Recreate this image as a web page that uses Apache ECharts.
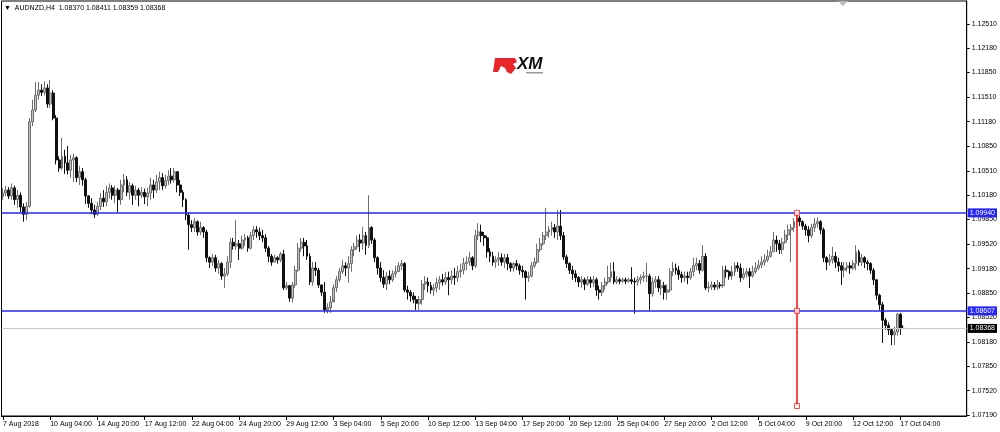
<!DOCTYPE html>
<html>
<head>
<meta charset="utf-8">
<script src="https://cdn.jsdelivr.net/npm/echarts@6/dist/echarts.min.js"></script>
<style>
html,body{margin:0;padding:0;background:#fff;}
#chart{width:1000px;height:432px;}
</style>
</head>
<body>
<div id="chart"></div>
<script>
// ---- Data (AUDNZD H4) ----
const symbolTitle = '\u25BC  AUDNZD,H4  1.08370 1.08411 1.08359 1.08368';
const xTickLabels = ['7 Aug 2018','10 Aug 04:00','14 Aug 20:00','17 Aug 12:00','22 Aug 04:00','24 Aug 20:00','29 Aug 12:00','3 Sep 04:00','5 Sep 20:00','10 Sep 12:00','13 Sep 04:00','17 Sep 20:00','20 Sep 12:00','25 Sep 04:00','27 Sep 20:00','2 Oct 12:00','5 Oct 04:00','9 Oct 20:00','12 Oct 12:00','17 Oct 04:00'];
const yTickValues = [1.07190,1.07520,1.07850,1.08180,1.08520,1.08850,1.09180,1.09520,1.09850,1.10180,1.10510,1.10850,1.11180,1.11510,1.11850,1.12180,1.12510];
const levelUpper = 1.09940;
const levelLower = 1.08607;
const lastPrice = 1.08368;
const redLineBar = 269;
const redLinePrices = [1.09940, 1.08607, 1.07313];

const opens = [1.1016,1.1021,1.1025,1.1017,1.1028,1.1012,1.1018,1.1002,1.0992,1.1003,
1.1118,1.1134,1.1154,1.1161,1.1158,1.1164,1.1142,1.1157,1.1123,1.1066,
1.1055,1.1071,1.1062,1.1052,1.1066,1.1069,1.1042,1.1050,1.1039,1.1017,
1.1007,1.0998,1.0992,1.1003,1.1014,1.1009,1.1022,1.1028,1.1018,1.1025,
1.1012,1.1032,1.1039,1.1022,1.1031,1.1018,1.1025,1.1018,1.1022,1.1016,
1.1021,1.1032,1.1025,1.1036,1.1042,1.1031,1.1038,1.1044,1.1039,1.1050,
1.1032,1.1022,1.1012,1.0991,1.0978,1.0974,1.0982,1.0968,1.0974,1.0968,
1.0933,1.0927,1.0933,1.0919,1.0925,1.0908,1.0911,1.0927,1.0954,1.0949,
1.0952,1.0946,1.0957,1.0960,1.0946,1.0963,1.0971,1.0968,1.0963,1.0960,
1.0946,1.0935,1.0927,1.0933,1.0930,1.0938,1.0892,1.0895,1.0878,1.0896,
1.0916,1.0946,1.0954,1.0949,1.0935,1.0900,1.0919,1.0916,1.0896,1.0886,
1.0862,1.0865,1.0873,1.0892,1.0903,1.0914,1.0922,1.0919,1.0925,1.0944,
1.0948,1.0957,1.0953,1.0963,1.0950,1.0974,1.0957,1.0933,1.0919,1.0906,
1.0897,1.0908,1.0903,1.0911,1.0914,1.0922,1.0925,1.0889,1.0886,1.0881,
1.0876,1.0871,1.0876,1.0897,1.0900,1.0895,1.0889,1.0892,1.0899,1.0903,
1.0900,1.0906,1.0903,1.0908,1.0906,1.0914,1.0916,1.0925,1.0927,1.0933,
1.0922,1.0963,1.0968,1.0963,1.0960,1.0941,1.0935,1.0927,1.0930,1.0933,
1.0927,1.0933,1.0925,1.0919,1.0925,1.0922,1.0916,1.0914,1.0906,1.0908,
1.0922,1.0927,1.0944,1.0952,1.0963,1.0968,1.0971,1.0974,1.0968,1.0976,
1.0963,1.0934,1.0925,1.0916,1.0911,1.0906,1.0900,1.0903,1.0897,1.0903,
1.0899,1.0903,1.0889,1.0886,1.0895,1.0900,1.0906,1.0914,1.0900,1.0903,
1.0901,1.0903,1.0901,1.0903,1.0901,1.0900,1.0903,1.0906,1.0908,1.0908,
1.0884,1.0900,1.0903,1.0892,1.0895,1.0886,1.0889,1.0914,1.0919,1.0916,
1.0910,1.0906,1.0908,1.0906,1.0914,1.0922,1.0925,1.0916,1.0935,1.0892,
1.0893,1.0896,1.0893,1.0896,1.0895,1.0916,1.0914,1.0908,1.0914,1.0922,
1.0919,1.0906,1.0911,1.0914,1.0908,1.0914,1.0919,1.0923,1.0927,1.0930,
1.0935,1.0941,1.0957,1.0952,1.0944,1.0954,1.0964,1.0971,1.0974,1.0982,
1.0987,1.0982,1.0976,1.0971,1.0963,1.0974,1.0979,1.0982,1.0971,1.0933,
1.0927,1.0930,1.0935,1.0927,1.0922,1.0916,1.0919,1.0922,1.0919,1.0925,
1.0941,1.0927,1.0933,1.0927,1.0925,1.0916,1.0903,1.0882,1.0869,1.0848,
1.0841,1.0835,1.0828,1.0832,1.0856,1.08370];

const closes = [1.1021,1.1025,1.1017,1.1028,1.1012,1.1018,1.1002,1.0992,1.1003,1.1118,
1.1134,1.1154,1.1161,1.1158,1.1164,1.1142,1.1157,1.1123,1.1066,1.1055,
1.1071,1.1062,1.1052,1.1066,1.1069,1.1042,1.1050,1.1039,1.1017,1.1007,
1.0998,1.0992,1.1003,1.1014,1.1009,1.1022,1.1028,1.1018,1.1025,1.1012,
1.1032,1.1039,1.1022,1.1031,1.1018,1.1025,1.1018,1.1022,1.1016,1.1021,
1.1032,1.1025,1.1036,1.1042,1.1031,1.1038,1.1044,1.1039,1.1050,1.1032,
1.1022,1.1012,1.0991,1.0978,1.0974,1.0982,1.0968,1.0974,1.0968,1.0933,
1.0927,1.0933,1.0919,1.0925,1.0908,1.0911,1.0927,1.0954,1.0949,1.0952,
1.0946,1.0957,1.0960,1.0946,1.0963,1.0971,1.0968,1.0963,1.0960,1.0946,
1.0935,1.0927,1.0933,1.0930,1.0938,1.0892,1.0895,1.0878,1.0896,1.0916,
1.0946,1.0954,1.0949,1.0935,1.0900,1.0919,1.0916,1.0896,1.0886,1.0862,
1.0865,1.0873,1.0892,1.0903,1.0914,1.0922,1.0919,1.0925,1.0944,1.0948,
1.0957,1.0953,1.0963,1.0950,1.0974,1.0957,1.0933,1.0919,1.0906,1.0897,
1.0908,1.0903,1.0911,1.0914,1.0922,1.0925,1.0889,1.0886,1.0881,1.0876,
1.0871,1.0876,1.0897,1.0900,1.0895,1.0889,1.0892,1.0899,1.0903,1.0900,
1.0906,1.0903,1.0908,1.0906,1.0914,1.0916,1.0925,1.0927,1.0933,1.0922,
1.0963,1.0968,1.0963,1.0960,1.0941,1.0935,1.0927,1.0930,1.0933,1.0927,
1.0933,1.0925,1.0919,1.0925,1.0922,1.0916,1.0914,1.0906,1.0908,1.0922,
1.0927,1.0944,1.0952,1.0963,1.0968,1.0971,1.0974,1.0968,1.0976,1.0963,
1.0934,1.0925,1.0916,1.0911,1.0906,1.0900,1.0903,1.0897,1.0903,1.0899,
1.0903,1.0889,1.0886,1.0895,1.0900,1.0906,1.0914,1.0900,1.0903,1.0901,
1.0903,1.0901,1.0903,1.0901,1.0900,1.0903,1.0906,1.0908,1.0908,1.0884,
1.0900,1.0903,1.0892,1.0895,1.0886,1.0889,1.0914,1.0919,1.0916,1.0910,
1.0906,1.0908,1.0906,1.0914,1.0922,1.0925,1.0916,1.0935,1.0892,1.0893,
1.0896,1.0893,1.0896,1.0895,1.0916,1.0914,1.0908,1.0914,1.0922,1.0919,
1.0906,1.0911,1.0914,1.0908,1.0914,1.0919,1.0923,1.0927,1.0930,1.0935,
1.0941,1.0957,1.0952,1.0944,1.0954,1.0964,1.0971,1.0974,1.0982,1.0987,
1.0982,1.0976,1.0971,1.0963,1.0974,1.0979,1.0982,1.0971,1.0933,1.0927,
1.0930,1.0935,1.0927,1.0922,1.0916,1.0919,1.0922,1.0919,1.0925,1.0941,
1.0927,1.0933,1.0927,1.0925,1.0916,1.0903,1.0882,1.0869,1.0848,1.0841,
1.0835,1.0828,1.0832,1.0856,1.0837,1.08368];

const highs = [1.1028,1.1031,1.1029,1.1034,1.1031,1.1025,1.1022,1.1007,1.1009,1.1123,
1.1148,1.1172,1.1172,1.1169,1.1173,1.1169,1.1175,1.1161,1.1127,1.1071,
1.1096,1.1080,1.1085,1.1073,1.1074,1.1071,1.1058,1.1055,1.1042,1.1018,
1.1014,1.1005,1.1009,1.1021,1.1025,1.1031,1.1034,1.1032,1.1031,1.1028,
1.1039,1.1047,1.1044,1.1036,1.1034,1.1031,1.1028,1.1029,1.1027,1.1028,
1.1042,1.1039,1.1046,1.1050,1.1048,1.1046,1.1052,1.1055,1.1055,1.1050,
1.1039,1.1025,1.1014,1.0995,1.0984,1.0987,1.0984,1.0982,1.0976,1.0971,
1.0935,1.0938,1.0937,1.0930,1.0927,1.0919,1.0935,1.0960,1.0960,1.0984,
1.0957,1.0963,1.0965,1.0963,1.0968,1.0976,1.0976,1.0974,1.0971,1.0965,
1.0949,1.0938,1.0937,1.0935,1.0941,1.0944,1.0900,1.0896,1.0900,1.0922,
1.0953,1.0960,1.0960,1.0957,1.0939,1.0927,1.0927,1.0919,1.0896,1.0900,
1.0871,1.0881,1.0897,1.0908,1.0919,1.0930,1.0927,1.0935,1.0949,1.0953,
1.0963,1.0965,1.0975,1.0968,1.1018,1.0976,1.0960,1.0935,1.0927,1.0916,
1.0914,1.0916,1.0916,1.0922,1.0927,1.0930,1.0927,1.0895,1.0889,1.0886,
1.0881,1.0881,1.0903,1.0908,1.0906,1.0900,1.0897,1.0906,1.0908,1.0911,
1.0914,1.0914,1.0916,1.0919,1.0922,1.0925,1.0933,1.0935,1.0941,1.0935,
1.0971,1.0980,1.0978,1.0968,1.0963,1.0946,1.0941,1.0935,1.0941,1.0939,
1.0938,1.0938,1.0927,1.0927,1.0930,1.0925,1.0922,1.0916,1.0914,1.0927,
1.0933,1.0952,1.0960,1.0968,1.1001,1.0976,1.0982,1.0979,1.0998,1.0998,
1.0968,1.0937,1.0927,1.0922,1.0916,1.0908,1.0908,1.0906,1.0908,1.0907,
1.0908,1.0906,1.0895,1.0900,1.0906,1.0922,1.0926,1.0927,1.0908,1.0906,
1.0906,1.0906,1.0906,1.0920,1.0906,1.0908,1.0910,1.0914,1.0926,1.0911,
1.0906,1.0908,1.0908,1.0903,1.0900,1.0897,1.0919,1.0927,1.0925,1.0922,
1.0914,1.0914,1.0914,1.0919,1.0933,1.0933,1.0930,1.0950,1.0939,1.0900,
1.0901,1.0900,1.0903,1.0900,1.0922,1.0922,1.0916,1.0922,1.0927,1.0927,
1.0925,1.0919,1.0919,1.0919,1.0922,1.0927,1.0930,1.0935,1.0938,1.0944,
1.0949,1.0968,1.0963,1.0957,1.0960,1.0971,1.0978,1.0979,1.0987,1.0994,
1.0990,1.0984,1.0979,1.0976,1.0979,1.0987,1.0988,1.0984,1.0974,1.0935,
1.0938,1.0948,1.0941,1.0933,1.0927,1.0927,1.0927,1.0927,1.0930,1.0950,
1.0944,1.0938,1.0935,1.0930,1.0927,1.0919,1.0903,1.0884,1.0873,1.0851,
1.0845,1.0837,1.0839,1.0858,1.0858,1.08411];

const lows = [1.1012,1.1017,1.1013,1.1012,1.1005,1.1001,1.0995,1.0982,1.0984,1.1001,
1.1112,1.1131,1.1148,1.1153,1.1154,1.1137,1.1137,1.1120,1.1060,1.1050,
1.1052,1.1047,1.1046,1.1042,1.1036,1.1036,1.1032,1.1031,1.1006,1.1001,
1.0992,1.0987,1.0990,1.0998,1.1002,1.1003,1.1014,1.1012,1.1007,1.0995,
1.1005,1.1022,1.1017,1.1012,1.1005,1.1012,1.1003,1.1014,1.1006,1.1003,
1.1012,1.1014,1.1021,1.1025,1.1025,1.1027,1.1032,1.1034,1.1035,1.1022,
1.1017,1.1002,1.0984,1.0944,1.0968,1.0968,1.0963,1.0964,1.0960,1.0927,
1.0919,1.0922,1.0914,1.0911,1.0903,1.0892,1.0908,1.0919,1.0944,1.0944,
1.0930,1.0944,1.0949,1.0941,1.0944,1.0957,1.0960,1.0957,1.0954,1.0941,
1.0927,1.0922,1.0927,1.0925,1.0927,1.0889,1.0889,1.0873,1.0872,1.0892,
1.0914,1.0941,1.0935,1.0930,1.0896,1.0895,1.0908,1.0892,1.0881,1.0858,
1.0857,1.0858,1.0876,1.0886,1.0900,1.0911,1.0908,1.0899,1.0914,1.0935,
1.0944,1.0941,1.0944,1.0937,1.0946,1.0952,1.0927,1.0910,1.0900,1.0892,
1.0889,1.0897,1.0900,1.0906,1.0914,1.0916,1.0886,1.0876,1.0873,1.0871,
1.0862,1.0862,1.0869,1.0889,1.0886,1.0884,1.0881,1.0886,1.0889,1.0895,
1.0896,1.0882,1.0897,1.0896,1.0900,1.0906,1.0910,1.0916,1.0922,1.0916,
1.0919,1.0957,1.0954,1.0949,1.0933,1.0927,1.0922,1.0919,1.0922,1.0922,
1.0919,1.0916,1.0914,1.0914,1.0916,1.0910,1.0906,1.0876,1.0900,1.0906,
1.0919,1.0925,1.0941,1.0949,1.0957,1.0960,1.0963,1.0960,1.0957,1.0957,
1.0930,1.0919,1.0911,1.0903,1.0900,1.0893,1.0892,1.0889,1.0895,1.0892,
1.0893,1.0881,1.0876,1.0881,1.0889,1.0897,1.0900,1.0897,1.0897,1.0897,
1.0899,1.0897,1.0899,1.0897,1.0857,1.0895,1.0897,1.0900,1.0900,1.0862,
1.0880,1.0892,1.0886,1.0882,1.0876,1.0876,1.0886,1.0908,1.0910,1.0903,
1.0899,1.0900,1.0897,1.0903,1.0908,1.0916,1.0911,1.0914,1.0889,1.0886,
1.0889,1.0889,1.0889,1.0891,1.0892,1.0906,1.0903,1.0903,1.0908,1.0914,
1.0900,1.0903,1.0906,1.0892,1.0906,1.0911,1.0916,1.0919,1.0922,1.0927,
1.0933,1.0941,1.0941,1.0938,1.0938,1.0952,1.0957,1.0927,1.0968,1.0974,
1.0976,1.0971,1.0963,1.0954,1.0960,1.0968,1.0974,1.0965,1.0927,1.0916,
1.0922,1.0925,1.0919,1.0914,1.0896,1.0906,1.0914,1.0911,1.0916,1.0916,
1.0922,1.0922,1.0919,1.0916,1.0911,1.0896,1.0876,1.0862,1.0817,1.0835,
1.0828,1.0814,1.0814,1.0827,1.0828,1.08359];

// ---- Categories: H4 bars from 7 Aug 2018 12:00, weekdays only, plus empty right margin ----
const totalSlots = 327;
const monthNames = ['Jan','Feb','Mar','Apr','May','Jun','Jul','Aug','Sep','Oct','Nov','Dec'];
const categories = [];
(function(){
  let t = Date.UTC(2018, 7, 7, 12, 0);
  while (categories.length < totalSlots) {
    const d = new Date(t);
    const wd = d.getUTCDay();
    if (wd !== 0 && wd !== 6) {
      const hh = String(d.getUTCHours()).padStart(2,'0');
      categories.push(d.getUTCDate() + ' ' + monthNames[d.getUTCMonth()] + ' ' + hh + ':00');
    }
    t += 4 * 3600 * 1000;
  }
})();

const candleData = opens.map((o, i) => [o, closes[i], lows[i], highs[i]]);

const chart = echarts.init(document.getElementById('chart'), null, {renderer: 'canvas'});
const FONT = 'Liberation Sans, Arial, sans-serif';
const BLUE = '#2424ff';
const isTickIdx = (idx) => idx % 16 === 0 && idx / 16 < xTickLabels.length;

function levelLabel(val, bg) {
  return {show: true, position: 'end', distance: 1, formatter: val.toFixed(5), color: '#fff',
          backgroundColor: bg, padding: [1, 2, 1, 2], fontSize: 7, fontFamily: FONT};
}

const option = {
  animation: false,
  backgroundColor: '#ffffff',
  title: {
    text: symbolTitle,
    left: 4, top: 5, padding: 0,
    textStyle: {fontSize: 7, fontWeight: 'normal', color: '#000', fontFamily: FONT}
  },
  grid: {left: 1, top: 1, right: 30, bottom: 16, show: true, borderColor: '#000', borderWidth: 1, backgroundColor: 'transparent'},
  xAxis: {
    type: 'category',
    data: categories,
    boundaryGap: true,
    axisLine: {show: true, lineStyle: {color: '#000', width: 1}},
    axisTick: {show: true, length: 4, alignWithLabel: true, interval: isTickIdx, lineStyle: {color: '#000'}},
    axisLabel: {
      interval: isTickIdx,
      formatter: (v, idx) => xTickLabels[idx / 16] || '',
      align: 'left', margin: 5,
      fontSize: 7, color: '#000', fontFamily: FONT
    },
    splitLine: {show: false}
  },
  yAxis: {
    type: 'value',
    position: 'right',
    min: 1.071764, max: 1.128229,
    axisLine: {show: true, lineStyle: {color: '#000', width: 1}},
    axisTick: {show: true, length: 3, customValues: yTickValues, lineStyle: {color: '#000'}},
    axisLabel: {
      customValues: yTickValues,
      formatter: (v) => v.toFixed(5),
      margin: 5, fontSize: 7, color: '#000', fontFamily: FONT
    },
    splitLine: {show: false}
  },
  series: [
    {
      type: 'candlestick',
      data: candleData,
      barWidth: 2.4,
      z: 3,
      itemStyle: {
        color: '#c4c4c4', borderColor: '#6e6e6e',
        color0: '#111111', borderColor0: '#111111',
        borderWidth: 1
      }
    },
    {
      type: 'scatter',
      silent: true,
      symbol: 'rect',
      symbolSize: 5,
      z: 5,
      itemStyle: {color: '#ffffff', borderColor: '#ff1a1a', borderWidth: 1},
      data: redLinePrices.map(p => [redLineBar, p]),
      markLine: {
        silent: true,
        precision: 5,
        symbol: ['none', 'none'],
        animation: false,
        data: [
          {yAxis: lastPrice, lineStyle: {color: '#c8c8c8', width: 1, type: 'solid'}, label: levelLabel(lastPrice, '#000')},
          {yAxis: levelUpper, lineStyle: {color: BLUE, width: 1.6, type: 'solid'}, label: levelLabel(levelUpper, BLUE)},
          {yAxis: levelLower, lineStyle: {color: BLUE, width: 1.6, type: 'solid'}, label: levelLabel(levelLower, BLUE)},
          [
            {coord: [redLineBar, redLinePrices[0]], lineStyle: {color: '#ff1a1a', width: 1.6, type: 'solid'}, label: {show: false}},
            {coord: [redLineBar, redLinePrices[2]]}
          ]
        ]
      }
    }
  ],
  graphic: [
    {type: 'polygon', shape: {points: [[838, 1], [848, 1], [843, 6]]}, style: {fill: '#b8b8b8'}, silent: true},
    {type: 'group', left: 493, top: 56, silent: true, children: [
      {type: 'polygon', shape: {points: [[2, 2], [22, 2], [24, 6], [20, 8], [23, 12], [18, 18], [14, 16], [12, 12], [8, 10], [5, 16], [0, 16]]}, style: {fill: '#e8262c'}},
      {type: 'text', x: 24, y: 0, style: {text: 'XM', fill: '#111', font: 'italic bold 17px "Liberation Sans", Arial, sans-serif'}},
      {type: 'rect', shape: {x: 33, y: 16, width: 17, height: 1.5}, style: {fill: '#999'}}
    ]}
  ]
};
chart.setOption(option);
</script>
</body>
</html>
